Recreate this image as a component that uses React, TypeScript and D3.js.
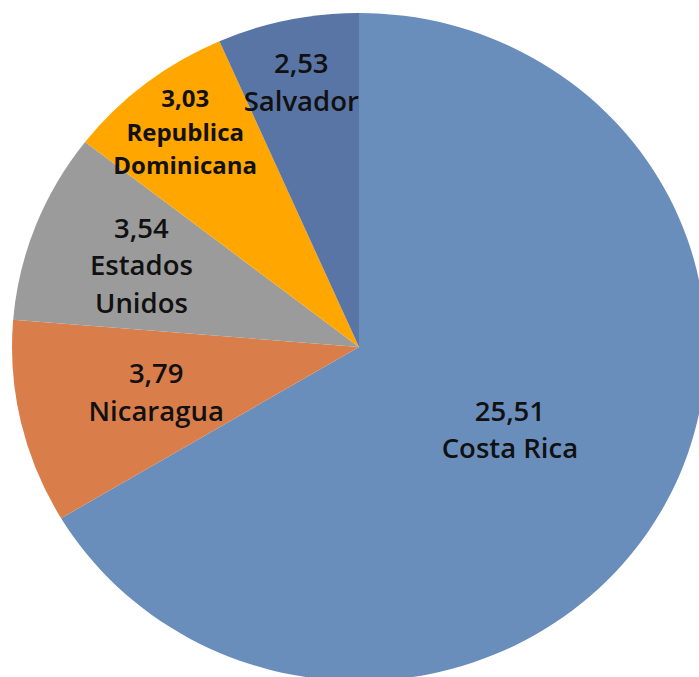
import {useEffect, useRef} from 'react';
import * as d3 from 'd3';

// values (decimal comma in the labels)
const countries = ['Costa Rica', 'Nicaragua', 'Estados Unidos', 'Republica Dominicana', 'Salvador'];
const values = [25.51, 3.79, 3.54, 3.03, 2.53];
const labelLines = [['Costa Rica'], ['Nicaragua'], ['Estados', 'Unidos'], ['Republica', 'Dominicana'], ['Salvador']];
const colors = ['#6a8ebc', '#d97e4a', '#9b9b9b', '#ffa600', '#5975a6'];

// how far out (share of radius) each label sits, like Excel's best fit
const labelRadius = [0.5, 0.6, 0.673, 0.815, 0.81];

const W = 699;
const H = 677;

export default function App() {
  const svgRef = useRef<SVGSVGElement>(null);

  useEffect(() => {
    if (!svgRef.current) return;
    const svg = d3.select(svgRef.current);
    svg.selectAll('*').remove();

    const cx = 359;
    const cy = 347;
    const rx = 347;
    const ry = 334;
    const sy = ry / rx;

    const data = countries.map((c, i) => ({name: c, value: values[i], i}));
    const pie = d3.pie<any>().sort(null).value((d) => d.value);
    const arcs = pie(data);

    const arc = d3.arc<any>().innerRadius(0).outerRadius(rx);

    const g = svg.append('g').attr('transform', `translate(${cx},${cy}) scale(1,${sy})`);
    g.selectAll('path')
      .data(arcs)
      .join('path')
      .attr('d', arc)
      .attr('fill', (d) => colors[d.data.i]);

    const labels = svg.append('g').attr('transform', `translate(${cx},${cy})`);
    arcs.forEach((a) => {
      const i = a.data.i;
      const k = labelRadius[i] * rx;
      const [lx, ly] = d3.arc<any>().innerRadius(k).outerRadius(k).centroid(a);
      const small = i === 3;
      const lh = small ? 33.5 : 37.5;
      const lines = [values[i].toFixed(2).replace('.', ','), ...labelLines[i]];
      const t = labels
        .append('text')
        .attr('x', lx)
        .attr('y', ly * sy)
        .attr('text-anchor', 'middle')
        .attr('font-family', '"Open Sans", sans-serif')
        .attr('font-size', small ? 24 : 27.5)
        .attr('font-weight', small ? 700 : 600)
        .attr('fill', '#111');
      lines.forEach((l, j) => {
        t.append('tspan')
          .attr('x', lx)
          .attr('y', ly * sy + (j - (lines.length - 1) / 2) * lh)
          .attr('dy', '0.36em')
          .text(l);
      });
    });
  }, []);

  return (
    <svg
      ref={svgRef}
      width={W}
      height={H}
      style={{position: 'absolute', left: 0, top: 0, background: '#fff'}}
    />
  );
}
